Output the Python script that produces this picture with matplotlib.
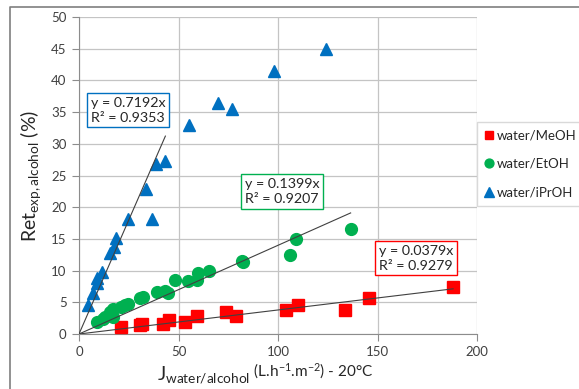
import matplotlib
matplotlib.use("Agg")
import matplotlib.pyplot as plt
import numpy as np
from matplotlib.lines import Line2D

plt.rcParams["font.family"] = ["Lato", "DejaVu Sans"]
plt.rcParams["mathtext.fontset"] = "custom"
plt.rcParams["mathtext.rm"] = "Lato"
plt.rcParams["mathtext.it"] = "Lato:italic"
plt.rcParams["mathtext.bf"] = "Lato:bold"

# data
meoh_x = [21.0, 30.7, 31.5, 42.4, 45.4, 53.3, 59.5, 73.9, 78.7, 103.9, 109.9, 133.7, 145.7, 188.0]
meoh_y = [1.05, 1.4, 1.6, 1.5, 2.2, 1.9, 2.9, 3.4, 2.8, 3.8, 4.5, 3.8, 5.7, 7.4]

etoh_x = [8.9, 12.2, 13.1, 15.6, 16.9, 17.3, 21.0, 23.1, 24.8, 30.7, 32.3, 39.0, 43.2, 44.9,
          48.2, 54.6, 59.1, 59.6, 65.3, 81.7, 82.2, 106.0, 108.9, 136.5]
etoh_y = [1.9, 2.4, 2.7, 3.5, 2.7, 3.9, 4.2, 4.6, 4.7, 5.6, 5.8, 6.6, 6.8, 6.5,
          8.5, 8.4, 8.5, 9.6, 10.0, 11.5, 11.3, 12.5, 15.0, 16.5]

iproh_x = [4.3, 7.0, 8.9, 9.2, 11.4, 15.6, 17.8, 18.6, 24.6, 33.7, 36.7, 38.5, 43.2,
           55.3, 69.8, 76.9, 98.0, 124.1]
iproh_y = [4.6, 6.4, 8.0, 8.8, 9.8, 12.7, 13.7, 15.1, 18.1, 22.8, 18.1, 26.8, 27.3,
           33.0, 36.4, 35.5, 41.5, 45.0]

series_names = ["water/MeOH", "water/EtOH", "water/iPrOH"]
slopes = [0.0379, 0.1399, 0.7192]
r2_values = [0.9279, 0.9207, 0.9353]
fit_x_max = [188.0, 136.5, 43.4]

colors = ["#FF0000", "#00B050", "#0070C0"]
markers = ["s", "o", "^"]
msizes = [8.5, 8.5, 9]

W, H = 579, 389
fig = plt.figure(figsize=(W / 100, H / 100), dpi=100)
ax = fig.add_axes([79 / W, 1 - 334 / H, (477 - 79) / W, (334 - 17) / H])

xs = [meoh_x, etoh_x, iproh_x]
ys = [meoh_y, etoh_y, iproh_y]
for x, y, c, m, ms, name in zip(xs, ys, colors, markers, msizes, series_names):
    ax.plot(x, y, linestyle="none", marker=m, ms=ms, color=c, mec=c, label=name, zorder=3)

# linear trendlines through origin
for k, xmax in zip(slopes, fit_x_max):
    tx = np.array([0, xmax])
    ax.plot(tx, k * tx, color="#404040", lw=0.8, zorder=4)

# equation boxes
box_pos = [(150.6, 14.1), (83.2, 24.6), (5.8, 37.4)]
for k, r2, c, (bx, by) in zip(slopes, r2_values, colors, box_pos):
    ax.text(bx, by, "y = %.4fx\nR² = %.4f" % (k, r2), fontsize=10.3, color="#262626",
            ha="left", va="top", linespacing=1.3, zorder=5,
            bbox=dict(boxstyle="square,pad=0.25", fc="white", ec=c, lw=1.0))

ax.set_xlim(0, 200)
ax.set_ylim(0, 50)
ax.set_xticks(np.arange(0, 201, 50))
ax.set_yticks(np.arange(0, 51, 5))
ax.grid(True, color="#C4C4C4", lw=0.9)
ax.set_axisbelow(True)
for side in ["top", "right"]:
    ax.spines[side].set_visible(False)
for side in ["left", "bottom"]:
    ax.spines[side].set_color("#8C8C8C")
ax.tick_params(length=5, color="#8C8C8C", labelsize=9.5, labelcolor="#404040", pad=4)

ax.set_ylabel(r"Ret$_{\mathregular{exp,alcohol}}$ (%)", fontsize=14, color="#262626", labelpad=6)

# x label: big J with subscript, rest smaller
j = fig.text(157 / W, 1 - 380 / H, r"J$_{\mathregular{water/alcohol}}$", fontsize=14,
             color="#262626", va="baseline")
ax.annotate(r" (L.h$^{\mathregular{-1}}$.m$^{\mathregular{-2}}$) - 20°C", xy=(1, 0), xycoords=j,
            xytext=(0, 3.5), textcoords="offset points", fontsize=11, color="#262626",
            va="bottom", ha="left")

leg = ax.legend(loc="upper left", bbox_to_anchor=(477 / W, 1 - 122 / H),
                bbox_transform=fig.transFigure, fontsize=9.5, frameon=True, fancybox=False,
                edgecolor="#D0D0D0", labelspacing=1.25, handlelength=0.7, handletextpad=0.25,
                markerscale=0.75, borderpad=0.55, borderaxespad=0)
for t in leg.get_texts():
    t.set_color("#262626")

# outer chart frame (left and top edges visible)
fig.add_artist(Line2D([10 / W, 10 / W, 1], [0, 1 - 7 / H, 1 - 7 / H],
                      transform=fig.transFigure, color="#7F7F7F", lw=1.2))

fig.savefig("out.png", dpi=100)
